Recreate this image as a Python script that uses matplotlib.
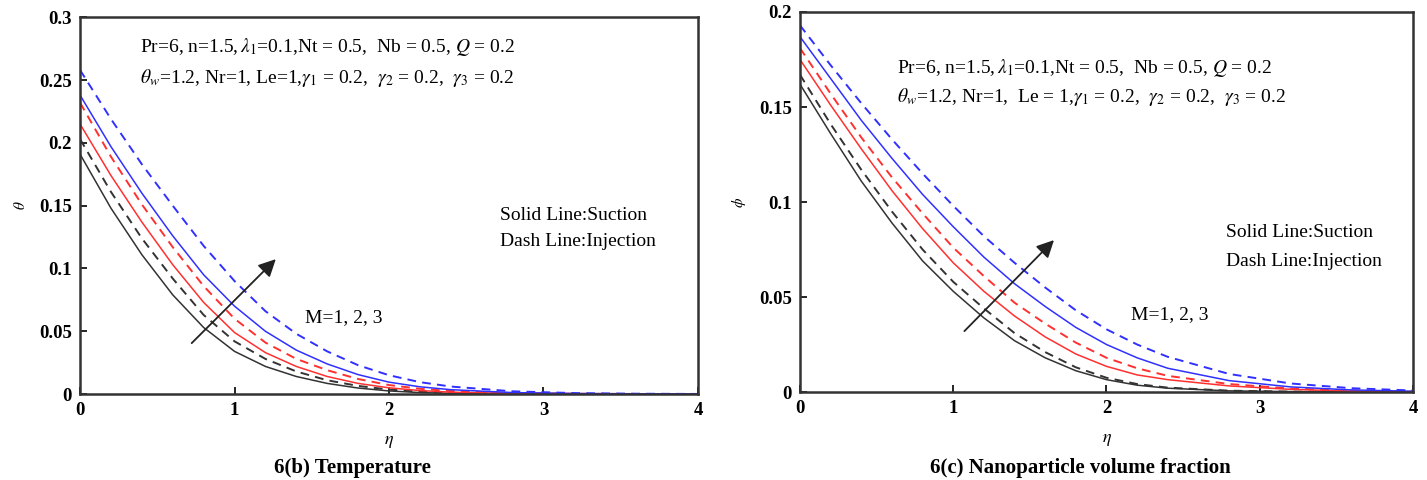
# Perfiles de temperatura y fracción de volumen de nanopartículas (Fig. 6b, 6c)
import matplotlib
matplotlib.use("Agg")
import matplotlib.pyplot as plt

plt.rcParams["font.family"] = ["Liberation Serif", "DejaVu Serif"]
plt.rcParams["mathtext.fontset"] = "stix"

eta = [0, 0.2, 0.4, 0.6, 0.8, 1.0, 1.2, 1.4, 1.6, 1.8, 2.0, 2.2, 2.4, 2.8, 3.2, 3.6, 4.0]

# 6(b) temperatura, M = 1, 2, 3 (sólida: succión, discontinua: inyección)
theta_m1_suc = [0.191, 0.148, 0.111, 0.079, 0.053, 0.034, 0.022, 0.014, 0.0085, 0.0048, 0.0025,
                0.0012, 0.0006, 0.0001, 0.0, 0.0, 0.0]
theta_m1_inj = [0.203, 0.161, 0.124, 0.092, 0.063, 0.042, 0.028, 0.018, 0.011, 0.0065, 0.0036,
                0.0019, 0.001, 0.0003, 0.0001, 0.0, 0.0]
theta_m2_suc = [0.215, 0.174, 0.137, 0.103, 0.073, 0.049, 0.033, 0.022, 0.014, 0.0085, 0.005,
                0.0028, 0.0015, 0.0005, 0.0002, 0.0001, 0.0]
theta_m2_inj = [0.232, 0.189, 0.151, 0.117, 0.086, 0.060, 0.041, 0.028, 0.019, 0.012, 0.0072,
                0.0042, 0.0024, 0.0008, 0.0003, 0.0001, 0.0]
theta_m3_suc = [0.238, 0.197, 0.160, 0.126, 0.095, 0.070, 0.050, 0.035, 0.024, 0.0155, 0.0095,
                0.0058, 0.0035, 0.0012, 0.0004, 0.0002, 0.0001]
theta_m3_inj = [0.258, 0.219, 0.183, 0.150, 0.118, 0.090, 0.066, 0.048, 0.034, 0.023, 0.015,
                0.0095, 0.006, 0.0022, 0.0008, 0.0003, 0.0001]

# 6(c) fracción de volumen de nanopartículas
phi_m1_suc = [0.162, 0.136, 0.111, 0.089, 0.069, 0.053, 0.039, 0.027, 0.018, 0.0112, 0.0065,
              0.0036, 0.002, 0.0006, 0.0002, 0.0001, 0.0]
phi_m1_inj = [0.167, 0.141, 0.117, 0.095, 0.075, 0.058, 0.044, 0.031, 0.021, 0.013, 0.0075,
              0.0042, 0.0023, 0.0007, 0.0002, 0.0001, 0.0]
phi_m2_suc = [0.175, 0.151, 0.128, 0.106, 0.086, 0.068, 0.053, 0.040, 0.029, 0.020, 0.0135,
              0.009, 0.0065, 0.0032, 0.0014, 0.0005, 0.0002]
phi_m2_inj = [0.181, 0.157, 0.134, 0.113, 0.094, 0.076, 0.061, 0.047, 0.036, 0.026, 0.018,
              0.0125, 0.0085, 0.0042, 0.0018, 0.0007, 0.0002]
phi_m3_suc = [0.187, 0.165, 0.143, 0.123, 0.104, 0.087, 0.071, 0.057, 0.045, 0.034, 0.025,
              0.018, 0.0125, 0.006, 0.0027, 0.0011, 0.0004]
phi_m3_inj = [0.193, 0.172, 0.152, 0.133, 0.115, 0.098, 0.082, 0.068, 0.055, 0.043, 0.033,
              0.025, 0.0185, 0.0095, 0.0045, 0.002, 0.0008]

colores = ["#333333", "#ff3030", "#3030ff"]

params_1 = r"Pr=6, n=1.5,$\,\lambda_1$=0.1,Nt = 0.5,  Nb = 0.5, $Q$ = 0.2"
params_2b = r"$\theta_w$=1.2, Nr=1, Le=1,$\gamma_1$ = 0.2,  $\gamma_2$ = 0.2,  $\gamma_3$ = 0.2"
params_2c = r"$\theta_w$=1.2, Nr=1,  Le = 1,$\gamma_1$ = 0.2,  $\gamma_2$ = 0.2,  $\gamma_3$ = 0.2"

fig = plt.figure(figsize=(14.27, 4.80), dpi=100)
ax1 = fig.add_axes([0.0561, 0.179, 0.433, 0.785])
ax2 = fig.add_axes([0.5606, 0.1833, 0.4296, 0.7917])


def dibujar(ax, curvas, ymax, yticks, ylabel):
    for i, (suc, inj) in enumerate(curvas):
        ax.plot(eta, suc, color=colores[i], lw=1.1)
        ax.plot(eta, inj, color=colores[i], lw=1.4, dashes=(4.5, 3.2))
    ax.set_xlim(0, 4)
    ax.set_ylim(0, ymax)
    ax.set_xticks([0, 1, 2, 3, 4])
    ax.set_yticks(yticks)
    ax.set_yticklabels([f"{v:g}" for v in yticks])
    ax.tick_params(direction="in", length=5, width=1.2, labelsize=13.5,
                   top=False, right=False, pad=6)
    for lbl in ax.get_xticklabels() + ax.get_yticklabels():
        lbl.set_fontweight("bold")
    for s in ax.spines.values():
        s.set_linewidth(1.8)
        s.set_color("#333333")
    ax.set_xlabel(r"$\eta$", fontsize=13, labelpad=10)
    ax.set_ylabel(ylabel, fontsize=11)
    ax.yaxis.set_label_coords(-0.085, 0.5)


dibujar(ax1, [(theta_m1_suc, theta_m1_inj), (theta_m2_suc, theta_m2_inj),
              (theta_m3_suc, theta_m3_inj)],
        0.3, [0, 0.05, 0.1, 0.15, 0.2, 0.25, 0.3], r"$\theta$")
dibujar(ax2, [(phi_m1_suc, phi_m1_inj), (phi_m2_suc, phi_m2_inj),
              (phi_m3_suc, phi_m3_inj)],
        0.2, [0, 0.05, 0.1, 0.15, 0.2], r"$\phi$")

fs = 14
# anotaciones panel izquierdo
ax1.text(0.388, 0.276, params_1, fontsize=fs, va="center")
ax1.text(0.388, 0.2514, params_2b, fontsize=fs, va="center")
ax1.text(2.72, 0.1424, "Solid Line:Suction", fontsize=fs, va="center")
ax1.text(2.72, 0.1217, "Dash Line:Injection", fontsize=fs, va="center")
ax1.text(1.456, 0.0605, "M=1, 2, 3", fontsize=fs, va="center")
ax1.annotate("", xy=(1.28, 0.109), xytext=(0.71, 0.039),
             arrowprops=dict(arrowstyle="-|>", color="#222222", lw=1.3,
                             mutation_scale=26))

# anotaciones panel derecho
ax2.text(0.63, 0.1705, params_1, fontsize=fs, va="center")
ax2.text(0.63, 0.1553, params_2c, fontsize=fs, va="center")
ax2.text(2.78, 0.0842, "Solid Line:Suction", fontsize=fs, va="center")
ax2.text(2.78, 0.0689, "Dash Line:Injection", fontsize=fs, va="center")
ax2.text(2.16, 0.0405, "M=1, 2, 3", fontsize=fs, va="center")
ax2.annotate("", xy=(1.67, 0.081), xytext=(1.06, 0.031),
             arrowprops=dict(arrowstyle="-|>", color="#222222", lw=1.3,
                             mutation_scale=26))

fig.text(352 / 1427, 1 - 468 / 480, "6(b) Temperature", ha="center", va="center",
         fontsize=15, fontweight="bold")
fig.text(1080 / 1427, 1 - 468 / 480, "6(c) Nanoparticle volume fraction", ha="center",
         va="center", fontsize=15, fontweight="bold")

fig.savefig("out.png", dpi=100)
